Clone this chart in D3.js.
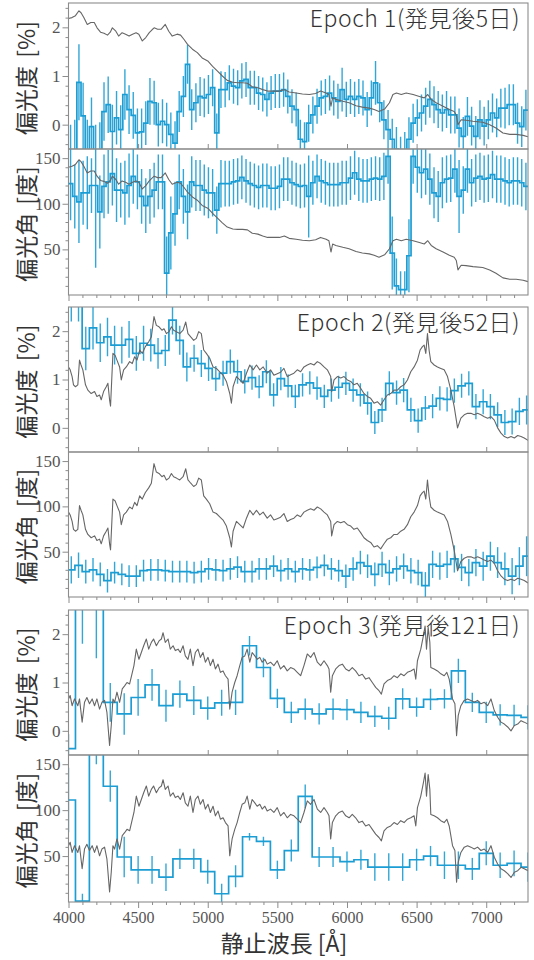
<!DOCTYPE html>
<html><head><meta charset="utf-8">
<script src="https://cdn.jsdelivr.net/npm/d3@7"></script>
<style>body{margin:0;background:#fff}svg{display:block}</style>
</head><body>
<svg id="chart" width="534" height="960"></svg>
<script>
// ---------- DATA ----------
const xDomain = [4000, 7300];
const xMajorTicks = [4000, 4500, 5000, 5500, 6000, 6500, 7000];
const xMinorTicks = [4100,4200,4300,4400,4600,4700,4800,4900,5100,5200,5300,5400,5600,5700,5800,5900,6100,6200,6300,6400,6600,6700,6800,6900,7100,7200];
const polTicks = [0, 1, 2];
const polMinor = [-0.4,-0.2,0.2,0.4,0.6,0.8,1.2,1.4,1.6,1.8,2.2,2.4];
const angTicks = [50, 100, 150];
const angMinor = [10,20,30,40,60,70,80,90,110,120,130,140];
const epochLabels = ["Epoch 1(発見後5日)", "Epoch 2(発見後52日)", "Epoch 3(発見後121日)"];
const polLabel = "偏光度 [%]";
const angLabel = "偏光角 [度]";
const xLabel = "静止波長 [Å]";

// Epoch 1 : 30 Å bins (centres)
const e1Wave = d3.range(4015, 7300, 30);
const e1Pol = [-0.7,-0.6,0.87,0.18,-0.6,-0.04,-0.7,-0.6,0.27,0.41,
 -0.14,0.14,-0.1,0.62,0.31,0.19,-0.17,-0.15,0.03,0.48,
 0.45,0.0,0.07,0.0,-0.2,-0.38,0.27,0.58,1.24,0.31,
 0.45,0.58,0.55,0.62,0.76,-0.17,0.72,0.72,0.86,0.79,
 0.76,0.9,0.93,0.76,0.76,0.65,0.62,0.52,0.65,0.69,
 0.69,0.72,0.58,0.38,0.31,-0.3,-0.35,0.03,0.2,0.38,
 0.55,0.58,0.65,0.55,0.48,0.72,0.52,0.58,0.52,0.58,
 0.55,0.31,0.55,0.86,0.45,0.1,-0.1,-0.3,-0.5,-0.7,
 -0.6,-0.3,0.03,0.14,0.24,0.38,0.52,0.41,0.31,0.24,
 0.31,0.2,0.2,-0.07,-0.24,0.17,-0.03,-0.24,0.1,-0.03,
 0.1,0.24,0.14,0.34,0.34,0.41,0.41,0.03,-0.04,0.3];
const e1PolErr = [0.7,0.7,0.78,0.68,0.7,0.6,0.7,0.65,0.6,0.58,
 0.55,0.55,0.5,0.52,0.5,0.48,0.5,0.48,0.45,0.48,
 0.45,0.45,0.45,0.45,0.45,0.45,0.42,0.42,0.4,0.42,
 0.4,0.4,0.4,0.4,0.38,0.4,0.38,0.36,0.36,0.36,
 0.36,0.36,0.36,0.35,0.35,0.35,0.35,0.35,0.35,0.35,
 0.35,0.35,0.35,0.35,0.35,0.4,0.4,0.38,0.38,0.36,
 0.36,0.36,0.36,0.36,0.36,0.45,0.36,0.36,0.36,0.36,
 0.36,0.36,0.36,0.45,0.4,0.4,0.4,0.42,0.45,0.45,
 0.45,0.45,0.4,0.38,0.38,0.38,0.38,0.38,0.38,0.38,
 0.38,0.38,0.38,0.4,0.4,0.4,0.4,0.42,0.4,0.4,
 0.4,0.4,0.4,0.4,0.42,0.42,0.42,0.42,0.42,0.42];
const e1Ang = [122,108,102,112,112,120,120,91,119,124,
 133,115,115,112,120,130,124,108,98,108,
 115,124,124,24,68,89,124,108,91,124,
 120,120,115,112,112,93,122,122,122,124,
 125,129,125,122,120,118,120,120,117,117,
 119,127,127,123,121,119,120,108,123,130,
 125,123,121,121,121,123,123,128,134,127,
 125,125,127,128,127,130,152,46,10,6,
 6,43,152,140,134,138,127,112,108,123,
 127,128,138,108,115,138,123,128,130,127,
 128,132,127,127,125,123,125,125,123,119];
const e1AngErr = [40,35,45,35,40,30,90,40,35,35,
 35,35,30,35,35,30,30,30,30,30,
 30,30,30,40,40,35,30,30,30,28,
 28,28,28,28,26,26,26,25,25,25,
 25,24,24,24,24,24,24,24,24,24,
 24,24,24,24,24,24,24,45,24,24,
 24,24,24,24,24,24,24,24,24,24,
 24,24,24,24,24,26,30,40,30,20,
 20,40,30,28,28,28,28,28,28,28,
 26,26,26,40,26,26,26,26,26,26,
 26,26,26,26,26,26,26,26,26,26];
const e1SpecWave = [4000,4025,4050,4075,4090,4110,4135,4160,4185,4205,4230,4255,4280,4300,4315,4340,4360,4385,4410,4435,4460,4485,4505,4530,4555,4580,4600,4615,4640,4665,4695,4720,4745,4780,4805,4830,4855,4890,4925,4960,5000,5035,5070,5105,5140,5180,5215,5250,5285,5320,5360,5395,5430,5465,5515,5550,5585,5635,5680,5730,5775,5810,5850,5870,5885,5897,5920,5970,6015,6065,6110,6160,6195,6230,6270,6305,6330,6355,6390,6425,6475,6520,6555,6580,6605,6640,6690,6735,6770,6785,6797,6820,6855,6905,6975,7025,7070,7120,7170,7215,7265,7300];
const e1SpecFlux = [2.18,2.2,2.24,2.34,2.3,2.2,2.06,2.1,2.1,1.99,1.9,1.88,1.84,1.9,1.99,1.92,1.82,1.89,1.86,1.82,1.86,1.89,1.86,1.72,1.79,1.89,1.95,1.99,1.96,1.96,2.06,1.92,1.82,1.86,1.84,1.75,1.65,1.55,1.48,1.37,1.31,1.2,1.1,1.0,0.91,0.87,0.86,0.86,0.85,0.78,0.76,0.72,0.69,0.69,0.69,0.72,0.67,0.65,0.63,0.62,0.64,0.69,0.65,0.62,0.38,0.55,0.52,0.48,0.45,0.39,0.36,0.34,0.31,0.27,0.32,0.45,0.62,0.65,0.62,0.65,0.62,0.58,0.55,0.62,0.52,0.45,0.38,0.31,0.27,0.2,0.0,0.1,0.09,0.07,0.05,0.0,-0.07,-0.17,-0.2,-0.2,-0.22,-0.25];

// Epoch 2 : ~52 Å bins (centres)
const e2Wave = [4020,4072,4124,4176,4228,4280,4331,4383,4435,4487,4539,4591,4643,4695,4747,4799,4850,4902,4954,5006,5058,5110,5162,5214,5266,5318,5369,5421,5473,5525,5577,5629,5681,5733,5785,5837,5888,5940,5992,6044,6096,6148,6200,6252,6304,6356,6407,6459,6511,6563,6615,6667,6719,6771,6823,6875,6926,6978,7030,7082,7134,7186,7238,7290];
const e2Pol = [2.7,2.7,1.64,2.07,1.76,1.88,1.71,1.71,1.83,1.54,
 1.75,1.71,1.54,1.6,2.23,1.81,1.26,1.44,1.33,1.23,
 1.02,1.13,1.37,1.16,0.96,1.04,0.85,1.16,0.68,1.02,
 0.87,0.65,0.89,0.93,0.82,0.65,0.78,0.84,0.92,0.78,
 0.68,0.51,0.11,0.37,0.92,0.73,0.78,0.37,0.15,0.41,
 0.45,0.61,0.59,0.77,0.87,0.92,0.44,0.54,0.44,0.27,
 0.11,0.13,0.34,0.37];
const e2PolErr = [0.5,0.5,0.45,0.45,0.4,0.4,0.4,0.38,0.38,0.36,
 0.36,0.34,0.32,0.32,0.3,0.3,0.3,0.28,0.28,0.26,
 0.26,0.26,0.25,0.25,0.25,0.25,0.24,0.24,0.24,0.24,
 0.24,0.24,0.24,0.24,0.24,0.24,0.24,0.24,0.24,0.24,
 0.24,0.24,0.24,0.25,0.25,0.25,0.25,0.25,0.25,0.25,
 0.25,0.25,0.25,0.25,0.25,0.25,0.26,0.26,0.26,0.26,
 0.26,0.27,0.28,0.3];
const e2Ang = [30,35,28,30,25,18,27,25,23,23,
 29,30,30,29,28,28,28,27,28,31,
 30,29,31,33,28,28,31,31,34,29,
 31,28,31,30,32.6,35,31,29,23,31,
 38,34,25,36,27,31,34,29,27,12.5,
 36,34,36,42,32.6,27,38,34,45,38,
 31,23,34,45];
const e2AngErr = [15,14,13,13,13,13,12,12,12,12,
 12,12,12,12,12,12,12,12,12,12,
 12,12,12,12,12,12,12,12,12,12,
 12,12,12,12,12,12,12,12,13,13,
 13,13,13,14,14,14,14,14,14,15,
 15,15,15,15,15,15,15,16,16,17,
 18,20,21,22];
const e2SpecWave = [4000,4012,4026,4036,4050,4067,4079,4090,4103,4122,4139,4163,4187,4204,4223,4235,4252,4271,4283,4295,4302,4319,4335,4348,4367,4379,4396,4415,4439,4458,4475,4492,4511,4530,4552,4576,4595,4614,4631,4650,4671,4686,4703,4722,4739,4755,4775,4799,4823,4842,4858,4878,4899,4918,4935,4954,4971,4990,5014,5038,5062,5086,5110,5134,5158,5170,5182,5206,5230,5254,5278,5302,5326,5350,5374,5398,5427,5451,5475,5499,5523,5547,5571,5595,5619,5643,5667,5691,5715,5739,5763,5787,5811,5835,5859,5883,5890,5907,5931,5955,5979,6003,6027,6050,6074,6098,6122,6146,6170,6194,6218,6242,6266,6290,6314,6338,6362,6386,6410,6434,6458,6482,6506,6525,6542,6554,6566,6578,6590,6602,6626,6650,6674,6698,6722,6746,6770,6794,6818,6842,6866,6890,6914,6938,6962,6986,7010,7034,7058,7082,7106,7130,7154,7178,7202,7226,7250,7273,7300];
const e2SpecFlux = [1.26,1.2,1.06,0.89,0.85,0.89,1.4,1.3,1.2,0.89,0.78,0.71,0.75,0.65,0.68,0.58,0.75,0.85,0.92,0.58,0.45,1.54,1.5,1.4,1.26,0.99,1.2,1.26,1.37,1.33,1.47,1.4,1.61,1.54,1.68,1.78,1.88,2.3,2.12,2.09,2.02,2.05,1.95,1.99,2.09,2.02,1.99,1.95,2.02,2.19,1.95,1.88,1.81,1.85,1.99,1.95,1.61,1.54,1.44,1.26,1.23,1.16,1.09,0.96,0.71,0.51,0.85,1.06,0.99,0.92,1.13,1.3,1.2,1.3,1.2,1.26,1.13,1.2,1.09,1.12,1.15,1.23,1.06,1.1,1.13,1.2,1.16,1.26,1.3,1.33,1.3,1.37,1.33,1.26,1.2,1.06,0.75,0.99,1.06,1.03,1.06,0.99,0.96,0.89,0.92,0.82,0.71,0.65,0.61,0.51,0.54,0.47,0.58,0.68,0.71,0.78,0.78,0.85,0.89,0.99,1.16,1.26,1.4,1.61,1.68,1.71,1.54,1.95,1.6,1.37,1.3,1.26,1.23,1.2,1.06,0.78,0.44,0.0,0.2,0.27,0.3,0.3,0.27,0.3,0.27,0.23,0.2,0.23,0.16,0.0,-0.11,-0.18,-0.21,-0.18,-0.21,-0.16,-0.18,-0.21,-0.26];

// Epoch 3 : 100 Å bins (centres)
const e3Wave = [4000,4100,4200,4300,4400,4500,4600,4700,4800,4900,5000,5100,5200,5300,5400,5500,5600,5700,5800,5900,6000,6100,6200,6300,6400,6500,6600,6700,6800,6900,7000,7100,7200,7300];
const e3Pol = [-0.37,3.0,3.5,0.59,0.35,0.69,0.95,0.52,0.76,0.63,
 0.47,0.58,0.59,1.76,1.31,0.67,0.38,0.45,0.35,0.45,
 0.44,0.38,0.3,0.26,0.66,0.49,0.65,0.66,1.24,0.59,
 0.38,0.33,0.32,0.28];
const e3PolErr = [0.3,1.2,2.0,0.4,0.43,0.38,0.33,0.33,0.28,0.3,
 0.24,0.27,0.26,0.2,0.2,0.2,0.22,0.22,0.22,0.22,
 0.22,0.22,0.22,0.24,0.22,0.2,0.22,0.2,0.25,0.2,
 0.22,0.22,0.22,0.25];
const e3Ang = [111,1,180,126,49,35,35,27,47,47,
 33,9,28,71,66,35,56,115,49,49,
 44,46,38,38,38,46,50,40,40,36,
 53,40,42,38];
const e3AngErr = [35,8,30,17,22,15,15,15,11,11,
 13,11,12,4,5,10,12,13,11,11,
 11,11,15,15,15,12,11,15,15,12,
 13,14,14,16];
const e3SpecWave = [4000,4012,4026,4043,4055,4067,4079,4098,4115,4132,4151,4170,4187,4204,4223,4240,4259,4276,4295,4307,4319,4331,4348,4367,4386,4403,4420,4439,4456,4470,4487,4506,4523,4540,4559,4576,4595,4611,4631,4650,4667,4679,4695,4715,4731,4751,4767,4787,4803,4823,4839,4858,4875,4894,4911,4930,4947,4966,4983,5002,5019,5038,5055,5074,5091,5110,5127,5146,5158,5175,5194,5211,5230,5247,5266,5283,5302,5319,5338,5355,5374,5391,5410,5427,5451,5475,5499,5523,5547,5571,5595,5619,5643,5667,5691,5715,5739,5763,5787,5811,5835,5859,5871,5883,5895,5919,5943,5967,5991,6015,6038,6062,6086,6110,6134,6158,6182,6206,6230,6247,6266,6290,6314,6338,6362,6386,6410,6434,6458,6482,6494,6506,6530,6549,6561,6571,6583,6595,6602,6626,6650,6674,6698,6717,6734,6758,6775,6787,6799,6818,6842,6866,6890,6914,6938,6962,6986,7010,7034,7058,7082,7106,7130,7154,7178,7202,7226,7250,7273,7300];
const e3SpecFlux = [0.66,0.73,0.52,0.66,0.59,0.52,0.66,0.18,0.59,0.69,0.56,0.66,0.52,0.66,0.45,0.59,0.63,0.38,-0.3,0.11,0.66,0.59,0.8,0.59,0.87,0.93,1.0,0.97,1.18,1.35,1.69,1.48,1.62,1.76,1.9,1.69,1.83,1.9,1.76,1.86,1.9,2.03,1.83,1.9,1.69,1.76,1.66,1.69,1.62,1.76,1.55,1.48,1.69,1.35,1.62,1.69,1.52,1.62,1.42,1.52,1.35,1.48,1.28,1.38,1.21,1.24,1.14,1.07,0.45,0.8,1.0,1.14,1.35,1.52,1.55,1.69,1.42,1.62,1.55,1.48,1.52,1.42,1.48,1.38,1.42,1.35,1.45,1.28,1.35,1.24,1.31,1.28,1.21,1.14,1.35,1.59,1.52,1.62,1.42,1.35,1.45,1.35,1.28,0.8,1.14,1.28,1.35,1.38,1.28,1.24,1.31,1.24,1.14,1.17,1.07,1.1,1.0,0.9,0.83,0.76,0.97,1.04,1.07,1.14,1.1,1.18,1.14,1.21,1.24,1.28,1.07,1.45,1.69,1.97,2.17,1.69,2.14,1.83,1.31,1.28,1.24,1.18,1.14,1.21,1.07,0.66,0.56,-0.1,0.32,0.52,0.63,0.66,0.63,0.59,0.63,0.56,0.59,0.52,0.66,0.42,0.28,0.18,0.14,0.08,0.0,0.11,0.14,0.21,0.18,0.14];

// flux -> angle-panel mapping (angle = a + b * flux)
const specToAngle = [[27.5, 51.6], [28.9, 51.4], [26.7, 52.4]];
const binHalfWidth = [15, 26, 50];

// ---------- LAYOUT ----------
const svg = d3.select("#chart");
const left = 68.5, right = 528;
const boxes = [[3,149],[149,295],[307,452],[452,597],[610,755],[755,902]];
const x = d3.scaleLinear().domain(xDomain).range([left, right]);
const BLUE = "#1c9dd3", GRAY = "#666", FRAME = "#8c8c8c", TXT = "#333";
const tickFont = "'Liberation Serif', 'DejaVu Serif', serif";
const jpFont = "'Noto Sans CJK JP', 'Noto Sans', sans-serif";

const epochs = [
  {label: epochLabels[0], wave: e1Wave, half: binHalfWidth[0], pol: e1Pol, polErr: e1PolErr, ang: e1Ang, angErr: e1AngErr, sw: e1SpecWave, sf: e1SpecFlux, map: specToAngle[0]},
  {label: epochLabels[1], wave: e2Wave, half: binHalfWidth[1], pol: e2Pol, polErr: e2PolErr, ang: e2Ang, angErr: e2AngErr, sw: e2SpecWave, sf: e2SpecFlux, map: specToAngle[1]},
  {label: epochLabels[2], wave: e3Wave, half: binHalfWidth[2], pol: e3Pol, polErr: e3PolErr, ang: e3Ang, angErr: e3AngErr, sw: e3SpecWave, sf: e3SpecFlux, map: specToAngle[2]}
];

const defs = svg.append("defs");

function drawPanel(idx, box, y, vals, errs, ep, fluxY, kind, isLast) {
  const [top, bot] = box;
  const cid = "clip" + idx;
  defs.append("clipPath").attr("id", cid).append("rect")
    .attr("x", left).attr("y", top).attr("width", right - left).attr("height", bot - top);
  const g = svg.append("g");
  const inner = g.append("g").attr("clip-path", `url(#${cid})`);

  const pts = ep.wave.map((w, k) => [w - ep.half, vals[k]]);
  pts.push([ep.wave[ep.wave.length - 1] + ep.half, vals[vals.length - 1]]);
  inner.append("path")
    .attr("d", d3.line().x(d => x(d[0])).y(d => y(d[1])).curve(d3.curveStepAfter)(pts))
    .attr("fill", "none").attr("stroke", BLUE).attr("stroke-width", 1.7);
  inner.selectAll("line.err").data(ep.wave).enter().append("line")
    .attr("x1", d => x(d)).attr("x2", d => x(d))
    .attr("y1", (d, k) => y(vals[k] - errs[k])).attr("y2", (d, k) => y(vals[k] + errs[k]))
    .attr("stroke", BLUE).attr("stroke-width", 1.4).attr("stroke-opacity", 0.9);
  inner.append("path")
    .attr("d", d3.line().x((d, k) => x(ep.sw[k])).y(d => fluxY(d))(ep.sf))
    .attr("fill", "none").attr("stroke", GRAY).attr("stroke-width", 1.1).attr("stroke-linejoin", "round");

  const major = kind === "pol" ? polTicks : angTicks;
  const minor = kind === "pol" ? polMinor : angMinor;
  const ya = g.append("g").attr("transform", `translate(${left},0)`)
    .call(d3.axisLeft(y).tickValues(major).tickSize(6).tickPadding(2).tickFormat(d3.format("d")));
  const ym = g.append("g").attr("transform", `translate(${left},0)`)
    .call(d3.axisLeft(y).tickValues(minor).tickSize(3).tickFormat(""));
  [ya, ym].forEach(a => { a.select(".domain").remove(); a.selectAll("line").attr("stroke", FRAME); });
  ya.selectAll("text").attr("font-family", tickFont).attr("font-size", 17).attr("fill", "#555");

  if (kind === "pol") {
    const xa = g.append("g").attr("transform", `translate(0,${bot})`)
      .call(d3.axisBottom(x).tickValues(xMajorTicks.slice(1)).tickSize(-5).tickFormat(""));
    xa.select(".domain").remove(); xa.selectAll("line").attr("stroke", FRAME);
  } else {
    const xa = g.append("g").attr("transform", `translate(0,${bot})`)
      .call(d3.axisBottom(x).tickValues(xMajorTicks).tickSize(6).tickPadding(4)
        .tickFormat(isLast ? d3.format("d") : ""));
    const xm = g.append("g").attr("transform", `translate(0,${bot})`)
      .call(d3.axisBottom(x).tickValues(xMinorTicks).tickSize(3).tickFormat(""));
    [xa, xm].forEach(a => { a.select(".domain").remove(); a.selectAll("line").attr("stroke", FRAME); });
    xa.selectAll("text").attr("font-family", tickFont).attr("font-size", 16).attr("fill", "#555");
  }

  g.append("rect").attr("x", left).attr("y", top).attr("width", right - left).attr("height", bot - top)
    .attr("fill", "none").attr("stroke", FRAME).attr("stroke-width", 1.1);

  g.append("text").attr("transform", `translate(25,${(top + bot) / 2 + 2}) rotate(-90)`)
    .attr("text-anchor", "middle").attr("dominant-baseline", "central")
    .attr("font-family", jpFont).attr("font-size", 23).attr("fill", TXT)
    .attr("word-spacing", 3)
    .text(kind === "pol" ? polLabel : angLabel);
}

epochs.forEach((ep, i) => {
  const pb = boxes[2 * i], ab = boxes[2 * i + 1];
  const yP = d3.scaleLinear().domain([-0.5, 2.5]).range([pb[1], pb[0]]);
  const yA = d3.scaleLinear().domain([0, 160]).range([ab[1], ab[0]]);
  const fluxA = d3.scaleLinear().domain([0, 1]).range([yA(ep.map[0]), yA(ep.map[0] + ep.map[1])]);
  drawPanel(2 * i, pb, yP, ep.pol, ep.polErr, ep, yP, "pol", false);
  drawPanel(2 * i + 1, ab, yA, ep.ang, ep.angErr, ep, fluxA, "ang", i === 2);
  svg.append("text").attr("x", 520).attr("y", pb[0] + 24).attr("text-anchor", "end")
    .attr("font-family", jpFont).attr("font-size", 23).attr("font-weight", 300)
    .attr("letter-spacing", 0.6).attr("fill", TXT).text(ep.label);
});

svg.append("text").attr("x", 284).attr("y", 952).attr("text-anchor", "middle")
  .attr("font-family", jpFont).attr("font-size", 23).attr("fill", TXT).text(xLabel);
</script>
</body></html>
